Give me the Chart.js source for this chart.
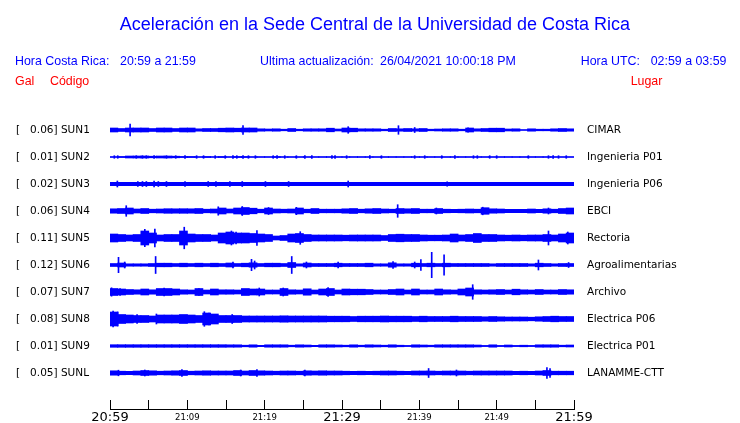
<!DOCTYPE html>
<html><head><meta charset="utf-8">
<script src="https://cdn.jsdelivr.net/npm/chart.js@4"></script>
<style>
html,body{margin:0;padding:0;background:#fff;}
#wrap{position:relative;width:740px;height:423px;overflow:hidden;}
#c{position:absolute;left:0;top:0;}
.t{position:absolute;font-family:"Liberation Sans",Arial,sans-serif;line-height:1;white-space:pre;}
.b{color:#0000ff;font-size:12.4px;}
.r{color:#ff0000;font-size:12.4px;}
</style></head><body>
<div id="wrap">
<canvas id="c" width="740" height="423"></canvas>
<div class="t" style="left:0;width:750px;text-align:center;top:14.8px;font-size:18px;color:#0000ff">Aceleración en la Sede Central de la Universidad de Costa Rica</div>
<div class="t b" style="left:15px;top:54.5px">Hora Costa Rica:</div>
<div class="t b" style="left:120px;top:54.5px">20:59 a 21:59</div>
<div class="t b" style="left:260px;top:54.5px">Ultima actualización:</div>
<div class="t b" style="left:380px;top:54.5px">26/04/2021 10:00:18 PM</div>
<div class="t b" style="left:580.7px;top:54.5px">Hora UTC:</div>
<div class="t b" style="left:650.7px;top:54.5px">02:59 a 03:59</div>
<div class="t r" style="left:15px;top:74.5px">Gal</div>
<div class="t r" style="left:50px;top:74.5px">Código</div>
<div class="t r" style="left:630.7px;top:74.5px">Lugar</div>
</div>
<script>
// ---- data ----
const codes = ['SUN1','SUN2','SUN3','SUN4','SUN5','SUN6','SUN7','SUN8','SUN9','SUNL'];
const galMax = ['0.06','0.01','0.02','0.06','0.11','0.12','0.07','0.08','0.01','0.05'];
const places = ['CIMAR','Ingenieria P01','Ingenieria P06','EBCI','Rectoria','Agroalimentarias','Archivo','Electrica P06','Electrica P01','LANAMME-CTT'];
const tickMinutes = [0,10,20,30,40,50,60];
const tickLabels = ['20:59','21:09','21:19','21:29','21:39','21:49','21:59'];
const majorTicks = ['20:59','21:29','21:59'];

// per-minute half-amplitude envelope of each trace (display units), minutes 0..59 after 20:59
const envSUN1 = [2,1.5,2,2,2,1.5,2,2,1.5,2, 2,1.2,1.5,1.5,1.8,2,1.8,2,2,1.2, 1,1.2,0.8,1.5,0.8,1.2,1.2,1.2,1.8,1, 2,1.8,1.2,1.2,1.2,0.8,1.5,1.2,1.5,1.2, 1.5,0.8,1,1.2,1.2,0.8,2,1.2,1.5,1.8, 1.8,1,1.2,0.5,1.2,0.8,0.8,1.2,1.5,1.2];
const envSUN2 = [0.5,0.6,1,1,1,0.8,1,1,0.8,0.6, 0.6,0.5,0.6,0.5,0.6,0.5,0.6,0.6,0.5,0.5, 0.5,0.6,0.5,0.5,0.5,0.5,0.5,0.5,0.5,0.5, 0.5,0.5,0.5,0.5,0.5,0.5,0.5,0.5,0.5,0.5, 0.5,0.5,0.5,0.5,0.5,0.5,0.5,0.5,0.5,0.5, 0.5,0.5,0.5,0.5,0.5,0.5,0.5,0.5,0.5,0.5];
const envSUN3 = [1.7,1.7,1.7,1.7,1.7,1.7,1.7,1.7,1.7,1.7, 1.7,1.7,1.7,1.7,1.7,1.7,1.7,1.7,1.7,1.7, 1.7,1.7,1.7,1.7,1.7,1.7,1.7,1.7,1.7,1.7, 1.7,1.7,1.7,1.7,1.7,1.7,1.7,1.7,1.7,1.7, 1.7,1.7,1.7,1.7,1.7,1.7,1.7,1.7,1.7,1.7, 1.7,1.7,1.7,1.7,1.7,1.7,1.7,1.7,1.7,1.7];
const envSUN4 = [2.2,2.5,3,2,2.5,1.8,2,2.3,2.2,2.3, 2.2,2.5,1.8,2,3,2,3,3.5,2.8,1.8, 3,2,1.8,2,3,1.8,2.5,1.8,1.8,1.8, 2.2,2.5,1.8,2.2,2.5,2,1.8,2.5,2.2,2.5, 1.8,1.8,2.5,1.8,1.7,1.8,2,1.8,3.3,2.2, 2,1.7,1.7,1.7,2,1.7,2.2,1.8,2.5,3];
const envSUN5 = [4,3.5,3,3.5,7,5,3,3.5,3.5,7, 4,3.5,3.5,3,5,6,5,5,4.5,4, 3.5,2,2.5,4,4.5,3.5,3,3,3,3, 2.8,3,3,3,3,2.5,3.5,3.8,3.5,3.5, 3,2.8,2.8,3,4,3,3.5,4.5,3.5,3.5, 3,2.8,3,2.8,3,3,3.5,3,4,5];
const envSUN6 = [1.5,2,1.2,1.2,1.2,1.5,1.8,1.8,1.5,1.8, 1.5,1.8,1.5,1.8,1.5,2,1.5,1.8,2.2,1.5, 1.8,1.8,1.5,2.5,1.2,2,1.5,1.5,1.5,1.8, 1.5,1.5,1.5,1.8,1.2,1.2,2.2,1.2,1.2,1.8, 1.5,1.8,1.5,1.8,1.5,1.5,1.5,1.5,1.5,1.2, 1.5,1.5,1.5,1.5,1.2,1.8,1.5,1.2,1.5,1.5];
const envSUN7 = [3.5,3,2.5,2.2,3,2.2,3.5,3.5,3,2.2, 2,3.5,2,3,2.2,2.2,2,3.5,3,3, 2,2,3.5,2.2,2,3.2,2,3,3.5,2, 3,2.8,2.8,2.5,2,2,2.5,3,2,3, 2,2,3,2.2,2,3,4,2.2,2,2.2, 2.5,2,2.8,2.2,2,2.5,2,2,2.5,2.2];
const envSUN8 = [7,4.5,4,3.5,3.5,3,4,4,4,4.5, 4,3.5,6,5,3.5,3.5,3.5,3,3,3, 3,3,3.2,3,3,3,3,3,2.8,2.8, 2.8,2.5,2.8,2.8,2.8,3,2.8,2.8,2.8,2.5, 2.8,2.5,2.5,2.5,2.8,2.5,2.5,2.5,2.2,2.5, 2.2,2,2,2,1.8,2.2,2.5,2.8,2.5,2.5];
const envSUN9 = [1.3,1.3,1.3,1.3,1.3,1.3,1.3,1.3,1.3,1.3, 1.3,1.3,1.3,1.3,1.3,1.2,1.2,0.8,1.2,0.7, 1.2,1.2,1.2,0.8,1.2,1,0.7,1.2,1.2,1, 0.8,1.2,0.8,1.2,1,0.8,1.2,0.8,0.6,1.2, 1,0.8,1.2,1.2,1.2,1.2,1.2,1,0.6,1.2, 0.6,1,0.6,0.8,0.6,1.2,1.2,1.2,0.8,1];
const envSUNL = [2.2,1.8,1.7,2,2.5,2.2,1.8,2,2.2,2.5, 1.8,2,2.2,2,2,2,2.5,2,2.5,2.2, 2,1.8,2,2,1.8,2.2,2,2.2,2,2, 1.8,1.7,1.8,1.7,1.8,2,2,1.8,1.7,2, 2,2,1.8,2,2,2,1.8,2,2,2, 2,2,1.7,1.8,1.7,2,2.5,1.8,1.8,1.8];

// isolated peaks: [minute, half-amplitude]
const pkSUN1 = [[2.6,6],[17.2,4.3],[30.8,3.3],[37.3,4.3],[39.4,2.5],[46.3,2.2]];
const pkSUN2 = [[0.56,1.3],[1,1.3],[3.4,1.3],[4.2,1.3],[4.7,1.3],[5.7,1.3],[7.3,1.3],[8.5,1.3],[9.7,1.3],[11.2,1.3],[12.1,1.3],[13.6,1.3],[14.9,1.3],[15.9,1.3],[16.4,1.3],[17.2,1.3],[17.9,1.3],[18.8,1.3],[21.1,1.3],[21.6,1.3],[22.6,1.3],[24.1,1.3],[25.2,1.3],[26.1,1.3],[28.7,1.3],[29.1,1.3],[30.6,1.3],[33.6,1.3],[35.1,1.3],[39.4,1.3],[40.7,1.3],[42.9,1.3],[44.6,1.3],[47,1.3],[47.5,1.3],[49.1,1.3],[50,1.3],[54.1,1.3],[56.7,1.3],[57.3,1.3],[58,1.3],[59,1.3]];
const pkSUN3 = [[0.95,3],[3.6,2.5],[4.2,2.5],[4.7,2.5],[5.7,3],[6.25,2.5],[7.3,2.5],[9.7,2.5],[12.7,2.5],[13.7,2.5],[15.5,2.5],[17.1,2.5],[20.1,2.5],[23.1,2.5],[30.8,3],[43.6,2.2]];
const pkSUN4 = [[2.1,5.3],[14,4.2],[17.1,4.5],[20.5,3.5],[24.1,3.7],[37.2,6.3],[42.2,3],[48.2,3.8],[56.7,3]];
const pkSUN5 = [[4.5,8.7],[5.8,9],[9.6,10.8],[15.7,7],[16.3,6],[19,7.5],[24.6,6.3],[56.7,7],[59.2,6]];
const pkSUN6 = [[1.1,7.7],[1.9,3],[5.9,8.5],[15.9,3],[18.3,5.7],[18.7,4],[23.5,8.5],[25.4,3],[29.5,3],[36.6,3.5],[39.4,3],[40.2,5.5],[41.6,12.7],[43.2,10.2],[55.4,5],[59.3,2.5]];
const pkSUN7 = [[0.2,4.2],[1.3,3.5],[7,4],[11.5,3.5],[19.3,4],[22.4,4],[28.2,4.5],[46.9,7.3]];
const pkSUN8 = [[0.4,8],[1,7],[3.5,4.5],[6,5],[12.2,7.3],[12.8,6],[15.8,4.5]];
const pkSUN9 = [];
const pkSUNL = [[1.1,2.8],[4.5,3],[9.3,3.5],[16.9,3],[19,3.5],[25.2,3],[41.2,4.5],[44.8,3],[56.5,5.5],[56.9,4.5]];

const envs = [envSUN1,envSUN2,envSUN3,envSUN4,envSUN5,envSUN6,envSUN7,envSUN8,envSUN9,envSUNL];
const peaks = [pkSUN1,pkSUN2,pkSUN3,pkSUN4,pkSUN5,pkSUN6,pkSUN7,pkSUN8,pkSUN9,pkSUNL];

// ---- layout (code constants) ----
const LANE = 27;            // vertical spacing between traces, in y units
const Y_MAX = LANE * (codes.length + 1) + 9;
const laneCenter = i => LANE * (i + 1);
const BLUE = '#0000ff';
const FONT = '"DejaVu Sans", Verdana, sans-serif';

const datasets = [];
codes.forEach((code, i) => {
  const c = laneCenter(i);
  datasets.push({
    label: code,
    data: envs[i].map((a, k) => ({x: k + 0.5, y: [c - a, c + a]})),
    backgroundColor: BLUE, borderWidth: 0, barThickness: 8, grouped: false,
    xAxisID: 'x', yAxisID: 'y'
  });
  datasets.push({
    label: code + ' peaks',
    data: peaks[i].map(([t, a]) => ({x: t, y: [c - a, c + a]})),
    backgroundColor: BLUE, borderWidth: 0, barThickness: 1, grouped: false,
    xAxisID: 'x', yAxisID: 'y'
  });
});

const laneTicks = s => { s.ticks = codes.map((_, i) => ({value: laneCenter(i)})); };
const noVPad = w => s => { s.width = w; s.paddingTop = 0; s.paddingBottom = 0; };

new Chart(document.getElementById('c'), {
  type: 'bar',
  data: {datasets},
  options: {
    responsive: false,
    animation: false,
    events: [],
    layout: {padding: {left: 16, top: 103, right: 0, bottom: 0}},
    plugins: {legend: {display: false}, tooltip: {enabled: false}, title: {display: false}},
    scales: {
      x: {
        type: 'linear', position: 'bottom', min: 0, max: 60, offset: false,
        ticks: {
          stepSize: 5, autoSkip: false, maxRotation: 0, minRotation: 0, padding: 11, color: '#000',
          callback: v => { const j = tickMinutes.indexOf(v); return j >= 0 ? tickLabels[j] : ''; },
          font: ctx => {
            const j = tickMinutes.indexOf(ctx.tick && ctx.tick.value);
            const major = j >= 0 && majorTicks.includes(tickLabels[j]);
            return {family: FONT, size: major ? 13 : 8.5, lineHeight: '14px'};
          }
        },
        grid: {offset: false, drawOnChartArea: false, drawTicks: true, tickLength: -9, color: '#000', lineWidth: 1},
        border: {display: true, color: '#000', width: 1},
        afterFit: s => { s.height = 14; }
      },
      y: {
        type: 'linear', position: 'left', reverse: true, min: 0, max: Y_MAX,
        afterBuildTicks: laneTicks,
        ticks: {autoSkip: false, crossAlign: 'far', color: '#000', font: {family: FONT, size: 10.5},
          callback: (v, idx) => '[   ' + galMax[idx] + '] ' + codes[idx]},
        grid: {display: false}, border: {display: false},
        afterFit: noVPad(94)
      },
      y2: {
        type: 'linear', position: 'right', reverse: true, min: 0, max: Y_MAX,
        afterBuildTicks: laneTicks,
        ticks: {autoSkip: false, padding: 13, color: '#000', font: {family: FONT, size: 10.5},
          callback: (v, idx) => places[idx]},
        grid: {display: false, drawTicks: false}, border: {display: false},
        afterFit: noVPad(166)
      }
    }
  }
});
</script>
</body></html>
